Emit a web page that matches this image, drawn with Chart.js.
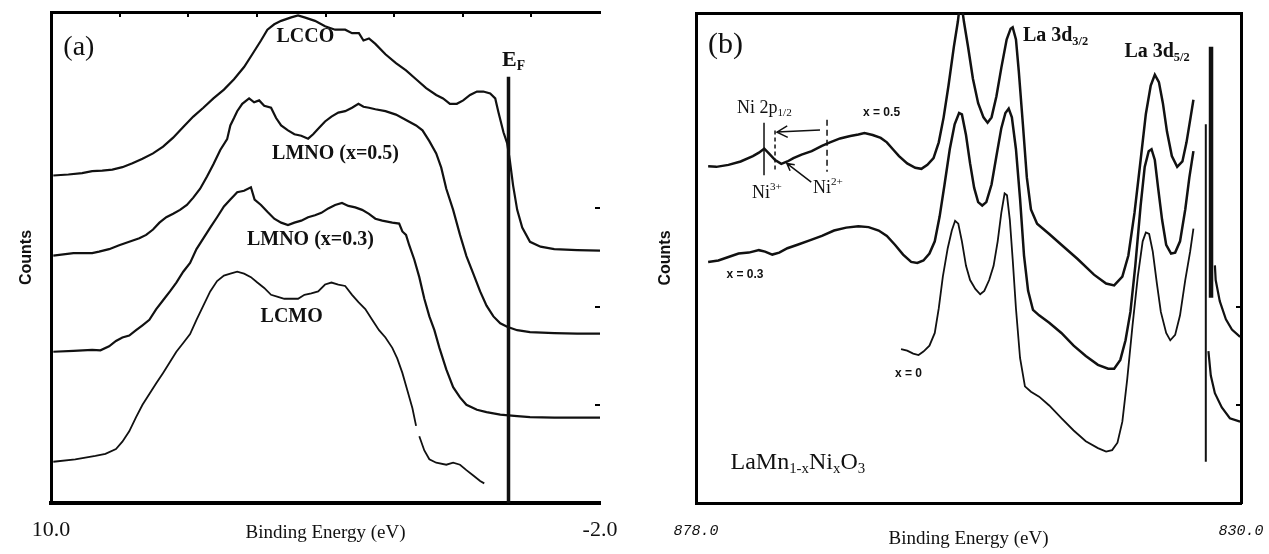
<!DOCTYPE html>
<html>
<head>
<meta charset="utf-8">
<script src="https://cdn.jsdelivr.net/npm/chart.js@4.4.0/dist/chart.umd.min.js"></script>
<style>
  body { margin: 0; background: #fff; }
  #wrapA { position: absolute; left: 0; top: 0; width: 629px; height: 554px; }
  #wrapB { position: absolute; left: 629px; top: 0; width: 640px; height: 554px; }
</style>
</head>
<body>
<div id="wrapA"><canvas id="chartA"></canvas></div>
<div id="wrapB"><canvas id="chartB"></canvas></div>
<script>
// ---- panel (a): valence band, [binding energy eV, counts] ----
const aTickValues = [10, -2];
const aTickLabels = ['10.0', '-2.0'];
const aTopTicks = [8.5, 7, 5.5, 4, 2.5, 1, -0.5];
const aRightTicks = [20, 40, 60];

const lcco = [[9.95,66.7],[9.62,66.9],[9.32,67.2],[9.10,67.6],[8.88,67.7],[8.66,67.9],[8.44,68.4],[8.22,69.2],[8.00,70.1],[7.77,71.2],[7.55,72.6],[7.33,74.4],[7.11,76.6],[6.89,78.7],[6.67,80.5],[6.45,82.4],[6.22,84.2],[6.00,86.3],[5.78,88.8],[5.60,91.4],[5.41,94.2],[5.27,96.4],[5.12,97.5],[4.97,98.2],[4.75,98.9],[4.60,99.3],[4.46,98.9],[4.23,98.2],[4.01,97.1],[3.79,96.4],[3.57,96.4],[3.42,95.7],[3.27,95.7],[3.17,94.2],[3.05,94.6],[2.91,93.5],[2.69,91.4],[2.46,89.6],[2.24,88.1],[2.02,86.3],[1.80,84.5],[1.58,83.1],[1.43,82.4],[1.28,81.3],[1.13,81.3],[0.99,82.0],[0.84,83.1],[0.69,83.8],[0.55,83.8],[0.40,83.4],[0.29,82.4],[0.22,79.6],[0.11,75.5],[0.03,73.3],[-0.03,69.7],[-0.10,64.7],[-0.19,59.7],[-0.30,56.1],[-0.47,53.2],[-0.70,52.2],[-1.00,51.7],[-1.50,51.5],[-2.00,51.4]];

const lmno05 = [[9.95,50.4],[9.51,50.9],[9.10,50.9],[8.95,51.2],[8.73,51.7],[8.51,52.5],[8.29,53.2],[8.07,53.9],[7.92,54.6],[7.77,55.7],[7.63,57.1],[7.48,58.2],[7.33,58.9],[7.18,59.7],[7.03,60.7],[6.89,62.2],[6.74,64.0],[6.59,66.5],[6.45,69.0],[6.30,71.9],[6.15,74.1],[6.08,76.9],[6.00,78.4],[5.93,79.8],[5.82,81.3],[5.67,82.4],[5.56,81.6],[5.45,82.0],[5.34,80.9],[5.19,80.5],[5.08,78.4],[4.97,76.9],[4.82,75.9],[4.68,75.1],[4.53,74.8],[4.38,74.2],[4.27,75.1],[4.16,76.2],[4.01,77.7],[3.87,78.7],[3.72,79.5],[3.57,79.8],[3.42,80.5],[3.28,81.3],[3.17,80.7],[3.05,80.5],[2.91,80.2],[2.69,79.8],[2.46,79.1],[2.24,78.0],[2.02,76.9],[1.88,75.9],[1.73,73.7],[1.58,71.2],[1.47,68.3],[1.36,64.0],[1.21,59.7],[1.06,54.6],[0.92,50.3],[0.77,46.7],[0.62,43.1],[0.48,40.2],[0.33,38.0],[0.18,36.6],[0.03,35.9],[-0.19,35.2],[-0.47,34.8],[-1.0,34.6],[-1.5,34.5],[-2.0,34.5]];

const lmno03 = [[9.95,30.8],[9.51,31.0],[9.10,31.2],[8.92,31.1],[8.73,31.9],[8.58,33.0],[8.44,33.7],[8.29,34.1],[8.14,35.2],[8.00,36.2],[7.85,37.3],[7.70,39.5],[7.55,41.3],[7.40,43.1],[7.26,44.9],[7.11,47.1],[6.96,48.9],[6.82,51.7],[6.67,53.9],[6.52,56.1],[6.37,58.2],[6.22,60.4],[6.08,61.8],[5.93,63.3],[5.78,63.6],[5.63,64.3],[5.55,61.8],[5.41,60.7],[5.27,59.3],[5.12,57.9],[4.97,57.1],[4.82,56.6],[4.68,57.1],[4.53,57.5],[4.38,58.2],[4.23,58.6],[4.09,59.1],[3.94,60.0],[3.79,60.7],[3.64,61.1],[3.50,60.5],[3.35,60.2],[3.20,59.7],[3.05,58.9],[2.91,57.9],[2.76,57.5],[2.54,57.1],[2.39,56.9],[2.32,55.3],[2.24,54.6],[2.17,52.5],[2.06,49.6],[1.95,46.0],[1.84,41.6],[1.73,38.0],[1.62,35.2],[1.51,31.6],[1.36,27.2],[1.21,23.6],[1.06,21.5],[0.92,20.0],[0.69,19.0],[0.48,18.5],[0.18,18.0],[-0.19,17.7],[-0.47,17.5],[-1.0,17.4],[-2.0,17.4]];

const lcmo = [[9.95,8.4],[9.47,8.9],[9.03,9.6],[8.81,10.0],[8.58,11.0],[8.44,12.5],[8.29,14.6],[8.14,17.5],[8.00,20.0],[7.85,22.2],[7.70,24.4],[7.55,26.5],[7.40,28.7],[7.26,30.8],[7.11,32.6],[6.96,34.4],[6.82,37.3],[6.67,40.2],[6.52,43.1],[6.37,45.2],[6.22,46.3],[6.08,46.7],[5.93,47.1],[5.78,46.7],[5.63,46.0],[5.49,44.9],[5.34,43.8],[5.19,42.4],[5.04,42.0],[4.90,41.6],[4.60,41.6],[4.46,42.4],[4.31,42.7],[4.16,43.1],[4.01,44.5],[3.87,44.9],[3.72,44.5],[3.57,44.2],[3.42,42.4],[3.28,40.9],[3.13,39.5],[2.98,37.3],[2.83,35.2],[2.69,33.7],[2.54,31.6],[2.43,29.4],[2.32,26.5],[2.21,22.9],[2.10,19.3],[2.02,15.7],[1.99,null],[1.95,13.6],[1.84,10.7],[1.73,8.9],[1.58,8.2],[1.36,7.8],[1.21,8.2],[1.06,7.8],[0.92,6.7],[0.77,5.6],[0.62,4.5],[0.53,4.0]];

const fermiLine = [[0, 0], [0, 86.8]];

// ---- panel (b): La 3d / Ni 2p core levels ----
const bTickValues = [878, 830];
const bTickLabels = ['878.0', '830.0'];
const bRightTicks = [20, 40];

const x05 = [[876.93,68.7],[876.21,68.6],[875.14,69.0],[874.07,69.7],[872.99,70.8],[872.46,71.5],[871.99,72.3],[871.56,71.3],[871.03,70.0],[870.49,69.2],[869.95,69.7],[869.42,70.4],[868.70,71.1],[867.81,71.8],[866.91,72.9],[866.20,73.6],[865.31,74.4],[864.41,74.9],[863.70,75.2],[863.16,75.5],[862.44,75.1],[861.73,74.5],[861.19,73.6],[860.66,72.2],[860.12,70.8],[859.40,69.3],[858.69,68.4],[858.15,68.2],[857.62,69.0],[857.08,70.4],[856.62,73.6],[856.19,78.7],[855.76,85.2],[855.29,93.1],[854.94,98.2],[854.69,103],[854.40,98.2],[854.04,93.1],[853.61,86.6],[853.15,81.6],[852.68,78.7],[852.32,77.6],[851.97,78.7],[851.54,83.0],[851.11,88.8],[850.64,94.6],[850.29,96.8],[850.11,97.1],[849.82,94.6],[849.57,88.1],[849.21,77.3],[848.86,66.4],[848.50,59.9],[847.96,57.0],[846.89,54.9],[845.82,52.7],[844.39,49.8],[842.95,46.6],[841.88,44.8],[841.17,44.4],[840.45,46.2],[839.92,50.5],[839.38,59.2],[838.84,70.0],[838.38,79.4],[837.95,85.2],[837.59,87.4],[837.23,85.9],[836.88,81.6],[836.52,75.8],[836.09,70.8],[835.62,68.6],[835.16,69.7],[834.80,73.6],[834.44,78.7],[834.19,82.3]];

const x03 = [[876.93,49.2],[876.03,49.5],[875.14,50.2],[874.25,50.9],[873.35,51.1],[872.46,51.6],[871.92,51.3],[871.28,50.7],[870.67,51.1],[869.95,52.0],[869.06,52.7],[867.99,53.6],[866.91,54.5],[865.84,55.6],[864.77,56.2],[863.70,56.5],[862.80,56.3],[861.91,55.6],[861.19,54.5],[860.48,52.7],[859.76,50.7],[859.05,49.2],[858.51,49.0],[857.97,49.5],[857.44,50.9],[856.97,53.4],[856.54,58.5],[856.11,65.0],[855.65,72.2],[855.22,77.3],[854.83,79.6],[854.58,79.3],[854.22,75.1],[853.86,69.3],[853.50,64.3],[853.15,61.4],[852.79,60.7],[852.43,61.4],[851.97,65.0],[851.54,70.8],[851.11,76.5],[850.75,79.6],[850.46,80.5],[850.18,78.7],[849.82,72.2],[849.46,62.1],[849.11,50.5],[848.75,43.3],[848.32,39.4],[847.78,38.3],[846.89,36.8],[845.82,34.7],[844.74,32.1],[843.67,30.0],[842.60,28.2],[841.70,27.4],[841.17,27.4],[840.63,29.2],[840.17,33.2],[839.74,39.0],[839.31,48.4],[838.84,60.7],[838.48,68.6],[838.13,71.8],[837.88,72.2],[837.59,70.0],[837.30,64.3],[836.95,57.8],[836.59,52.7],[836.16,50.9],[835.80,51.1],[835.37,53.4],[834.91,59.9],[834.55,66.4],[834.19,71.8]];

const x00 = [[859.94,31.4],[859.40,31.1],[858.87,30.5],[858.40,30.2],[857.97,30.9],[857.44,32.1],[856.97,34.7],[856.62,39.7],[856.26,46.2],[855.83,52.0],[855.47,55.6],[855.18,57.6],[854.90,57.0],[854.58,53.4],[854.22,48.4],[853.86,45.5],[853.40,43.7],[852.97,42.6],[852.61,43.3],[852.18,45.5],[851.79,48.4],[851.43,53.4],[851.11,59.2],[850.82,63.2],[850.61,62.8],[850.36,57.8],[850.11,49.8],[849.82,39.7],[849.46,29.6],[849.03,23.8],[848.50,22.7],[847.78,21.7],[846.89,19.9],[845.82,17.3],[844.74,14.8],[843.67,12.6],[842.60,11.2],[841.88,10.5],[841.35,10.8],[840.88,12.3],[840.45,16.6],[840.02,25.3],[839.56,36.1],[839.09,46.2],[838.66,53.4],[838.38,55.2],[838.09,54.9],[837.77,51.3],[837.41,44.8],[837.06,39.0],[836.59,34.7],[836.23,33.2],[835.80,34.3],[835.37,38.3],[834.91,45.5],[834.48,51.3],[834.19,56.0]];

const tailUpper = [[832.30,48.5],[832.23,45.5],[831.87,41.2],[831.33,37.5],[830.80,35.4],[830.08,33.9]];
const tailLower = [[832.87,31.0],[832.66,26.0],[832.30,22.4],[831.69,19.5],[830.98,17.3],[830.08,16.6]];
const barThick = [[832.64,41.9],[832.64,93.1]];
const barThin = [[833.1,8.4],[833.1,77.3]];
const ni3Mark = [[872.01,77.6],[872.01,66.9]];
const ni2MarkShort = [[871.04,76.0],[871.04,68.0]];
const ni2MarkLong = [[866.46,78.2],[866.46,67.6]];

const serif = '"Liberation Serif", "Times New Roman", serif';
const sans = '"Liberation Sans", Arial, sans-serif';
const ink = '#111';

function series(pairs, width, dash) {
  return {
    data: pairs.map(p => ({ x: p[0], y: p[1] })),
    borderColor: ink,
    borderWidth: width,
    borderDash: dash || [],
    pointRadius: 0,
    tension: 0,
    fill: false
  };
}

function drawRich(ctx, t, px, py) {
  const fam = t.family || serif;
  const wt = t.weight || 'normal';
  const sizeOf = p => p.s ? t.size * 0.62 : t.size;
  let total = 0;
  t.parts.forEach(p => { ctx.font = wt + ' ' + sizeOf(p) + 'px ' + fam; total += ctx.measureText(p.t).width; });
  let x = t.align === 'center' ? px - total / 2 : px;
  ctx.textAlign = 'left';
  ctx.textBaseline = 'middle';
  t.parts.forEach(p => {
    ctx.font = wt + ' ' + sizeOf(p) + 'px ' + fam;
    const dy = p.s === 'sub' ? t.size * 0.3 : (p.s === 'sup' ? -t.size * 0.32 : 0);
    ctx.fillText(p.t, x, py + dy);
    x += ctx.measureText(p.t).width;
  });
}

const marksPlugin = {
  id: 'marks',
  afterDatasetsDraw(chart, args, opts) {
    const ctx = chart.ctx, xs = chart.scales.x, ys = chart.scales.y;
    ctx.save();
    ctx.fillStyle = ink;
    ctx.strokeStyle = ink;
    (opts.texts || []).forEach(t => drawRich(ctx, t, xs.getPixelForValue(t.x), ys.getPixelForValue(t.y)));
    (opts.arrows || []).forEach(a => {
      const x1 = xs.getPixelForValue(a.from[0]), y1 = ys.getPixelForValue(a.from[1]);
      const x2 = xs.getPixelForValue(a.to[0]), y2 = ys.getPixelForValue(a.to[1]);
      const ang = Math.atan2(y1 - y2, x1 - x2);
      const h = a.head;
      ctx.lineWidth = 1.5;
      ctx.beginPath();
      ctx.moveTo(x1, y1); ctx.lineTo(x2, y2);
      ctx.moveTo(x2 + h * Math.cos(ang - 0.5), y2 + h * Math.sin(ang - 0.5));
      ctx.lineTo(x2, y2);
      ctx.lineTo(x2 + h * Math.cos(ang + 0.5), y2 + h * Math.sin(ang + 0.5));
      ctx.stroke();
    });
    ctx.restore();
  }
};

function frame(o) {
  return {
    x: {
      type: 'linear', position: 'bottom', min: o.min, max: o.max, reverse: true,
      afterBuildTicks: s => { s.ticks = o.tickValues.map(v => ({ value: v })); },
      afterFit: s => { s.height = 51; },
      // invisible tick marks give the label gap without widening the side padding
      grid: { display: true, drawOnChartArea: false, drawTicks: true, tickLength: o.tickPad, color: 'rgba(0,0,0,0)' },
      border: { display: true, width: o.bottomWidth, color: '#000' },
      ticks: { autoSkip: false, maxRotation: 0, padding: 0, color: ink, font: o.tickFont,
               callback: (v, i) => o.tickLabels[i] },
      title: { display: true, text: 'Binding Energy (eV)', color: ink,
               font: { family: serif, size: 19 }, padding: { top: 0, bottom: o.titlePad } }
    },
    xt: {
      type: 'linear', position: 'top', min: o.min, max: o.max, reverse: true,
      afterBuildTicks: s => { s.ticks = (o.topTicks || []).map(v => ({ value: v })); },
      afterFit: s => { s.height = o.top; },
      grid: { display: true, drawOnChartArea: false, drawTicks: true, tickLength: -5, lineWidth: 2, color: '#000' },
      border: { display: true, width: 3, color: '#000' },
      ticks: { display: false }
    },
    y: {
      type: 'linear', position: 'left', min: 0, max: 100,
      afterFit: s => { s.width = o.left; },
      grid: { display: false, drawTicks: false },
      border: { display: true, width: 3, color: '#000' },
      ticks: { display: false },
      title: { display: true, text: 'Counts', color: ink,
               font: { family: sans, size: 16, weight: 'bold' }, padding: { top: o.countsPad, bottom: 0 } }
    },
    yr: {
      type: 'linear', position: 'right', min: 0, max: 100,
      afterBuildTicks: s => { s.ticks = o.rightTicks.map(v => ({ value: v })); },
      afterFit: s => { s.width = o.right; },
      grid: { display: true, drawOnChartArea: false, drawTicks: true, tickLength: -5, lineWidth: 2, color: '#000' },
      border: { display: o.rightBorder, width: 3, color: '#000' },
      ticks: { display: false }
    }
  };
}

new Chart(document.getElementById('chartA'), {
  type: 'line',
  data: {
    datasets: [
      series(lcco, 2.2),
      series(lmno05, 2.2),
      series(lmno03, 2.2),
      series(lcmo, 1.8),
      series(fermiLine, 3.5)
    ]
  },
  options: {
    responsive: true, maintainAspectRatio: false, animation: false,
    layout: { padding: 0 },
    plugins: {
      legend: { display: false }, tooltip: { enabled: false },
      marks: {
        texts: [
          { x: 9.73, y: 92.8, parts: [{ t: '(a)' }], size: 28 },
          { x: 4.44, y: 95.0, parts: [{ t: 'LCCO' }], size: 20, weight: 'bold', align: 'center' },
          { x: 3.78, y: 71.2, parts: [{ t: 'LMNO (x=0.5)' }], size: 20, weight: 'bold', align: 'center' },
          { x: 4.33, y: 53.5, parts: [{ t: 'LMNO (x=0.3)' }], size: 20, weight: 'bold', align: 'center' },
          { x: 4.74, y: 38.0, parts: [{ t: 'LCMO' }], size: 20, weight: 'bold', align: 'center' },
          { x: 0.14, y: 90.2, parts: [{ t: 'E' }, { t: 'F', s: 'sub' }], size: 22, weight: 'bold' }
        ]
      }
    },
    scales: frame({
      min: -2, max: 10, tickValues: aTickValues, tickLabels: aTickLabels, topTicks: aTopTicks,
      rightTicks: aRightTicks, left: 51, right: 29, top: 12, bottomWidth: 4, rightBorder: false,
      tickPad: 14, tickFont: { family: serif, size: 22 }, titlePad: 10, countsPad: 17
    })
  },
  plugins: [marksPlugin]
});

new Chart(document.getElementById('chartB'), {
  type: 'line',
  data: {
    datasets: [
      series(x05, 2.5),
      series(x03, 2.5),
      series(x00, 1.8),
      series(tailUpper, 2.2),
      series(tailLower, 2.2),
      series(barThick, 4.5),
      series(barThin, 2),
      series(ni3Mark, 1.5),
      series(ni2MarkShort, 1.5, [4, 3]),
      series(ni2MarkLong, 1.5, [6, 4])
    ]
  },
  options: {
    responsive: true, maintainAspectRatio: false, animation: false,
    layout: { padding: 0 },
    plugins: {
      legend: { display: false }, tooltip: { enabled: false },
      marks: {
        texts: [
          { x: 876.94, y: 93.5, parts: [{ t: '(b)' }], size: 30 },
          { x: 874.39, y: 80.6, parts: [{ t: 'Ni 2p' }, { t: '1/2', s: 'sub' }], size: 18 },
          { x: 863.29, y: 79.6, parts: [{ t: 'x = 0.5' }], size: 12, family: sans, weight: 'bold' },
          { x: 873.07, y: 63.3, parts: [{ t: 'Ni' }, { t: '3+', s: 'sup' }], size: 18 },
          { x: 867.70, y: 64.3, parts: [{ t: 'Ni' }, { t: '2+', s: 'sup' }], size: 18 },
          { x: 875.32, y: 46.6, parts: [{ t: 'x = 0.3' }], size: 12, family: sans, weight: 'bold' },
          { x: 860.48, y: 26.4, parts: [{ t: 'x = 0' }], size: 12, family: sans, weight: 'bold' },
          { x: 849.21, y: 95.3, parts: [{ t: 'La 3d' }, { t: '3/2', s: 'sub' }], size: 20, weight: 'bold' },
          { x: 840.27, y: 92.1, parts: [{ t: 'La 3d' }, { t: '5/2', s: 'sub' }], size: 20, weight: 'bold' },
          { x: 874.96, y: 8.3, parts: [{ t: 'LaMn' }, { t: '1-x', s: 'sub' }, { t: 'Ni' }, { t: 'x', s: 'sub' }, { t: 'O' }, { t: '3', s: 'sub' }], size: 24 }
        ],
        arrows: [
          { from: [867.08, 76.1], to: [870.87, 75.7], head: 12 },
          { from: [867.85, 65.5], to: [870.0, 69.3], head: 8 }
        ]
      }
    },
    scales: frame({
      min: 830, max: 878, tickValues: bTickValues, tickLabels: bTickLabels, topTicks: [],
      rightTicks: bRightTicks, left: 67, right: 28, top: 13, bottomWidth: 3, rightBorder: true,
      tickPad: 19, tickFont: { family: '"Liberation Mono", monospace', size: 15, style: 'italic' },
      titlePad: 4, countsPad: 27
    })
  },
  plugins: [marksPlugin]
});
</script>
</body>
</html>
